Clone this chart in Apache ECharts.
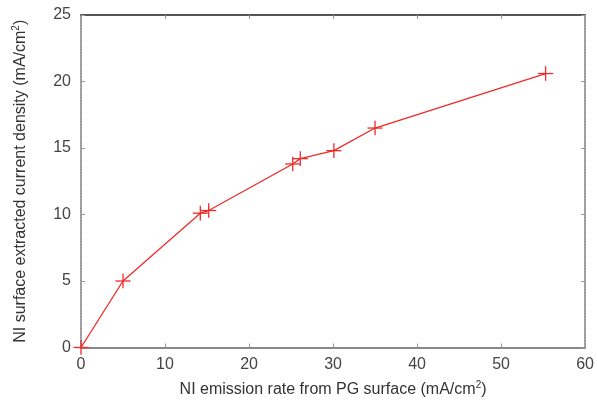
<!DOCTYPE html>
<html><head><meta charset="utf-8">
<script src="https://cdn.jsdelivr.net/npm/echarts@6/dist/echarts.min.js"></script>
<style>html,body{margin:0;padding:0;background:#fff;}#c{width:597px;height:403px;}</style>
</head><body><div id="c"></div>
<script>
const xValues = [0, 5, 14.2, 15.2, 25.2, 26.1, 30.1, 35, 55.3];
const yValues = [0, 5.0, 10.1, 10.3, 13.8, 14.2, 14.8, 16.5, 20.6];
const xErr = [0.9, 0.9, 0.9, 0.9, 0.9, 0.9, 0.9, 0.9, 0.9];
const yErr = [0.55, 0.55, 0.55, 0.55, 0.55, 0.55, 0.55, 0.55, 0.55];
const xTicks = [0, 10, 20, 30, 40, 50, 60];
const yTicks = [0, 5, 10, 15, 20, 25];

const red = '#ee2a2a';
const points = xValues.map((x, i) => [x, yValues[i], xErr[i], yErr[i]]);
const chart = echarts.init(document.getElementById('c'));
const font = 'Liberation Sans, Arial, sans-serif';
const tick = {inside: true, length: 4, lineStyle: {color: '#999'}};
chart.setOption({
  animation: false,
  grid: {left: 81, right: 11, top: 15, bottom: 55},
  xAxis: [
    {type: 'value', min: xTicks[0], max: xTicks[xTicks.length - 1], interval: 10, position: 'bottom',
     axisLine: {show: true, onZero: false, lineStyle: {color: '#888', width: 2}},
     axisTick: tick,
     axisLabel: {color: '#444', fontSize: 16, fontFamily: font, margin: 9},
     splitLine: {show: false},
     name: 'NI emission rate from PG surface (mA/cm{s|2})',
     nameLocation: 'middle', nameGap: 33,
     nameTextStyle: {color: '#333', fontSize: 16, fontFamily: font,
       rich: {s: {fontSize: 10, verticalAlign: 'top', padding: [0,0,9,0], color: '#333', fontFamily: font}}}},
    {type: 'value', min: xTicks[0], max: xTicks[xTicks.length - 1], interval: 10, position: 'top',
     axisLine: {show: true, onZero: false, lineStyle: {color: '#555', width: 2}},
     axisTick: tick,
     axisLabel: {show: false}, splitLine: {show: false}}
  ],
  yAxis: [
    {type: 'value', min: yTicks[0], max: yTicks[yTicks.length - 1], interval: 5, position: 'left',
     axisLine: {show: true, onZero: false, lineStyle: {color: '#777', type: [2, 1], width: 1.5}},
     axisTick: tick,
     axisLabel: {color: '#444', fontSize: 16, fontFamily: font, margin: 10},
     splitLine: {show: false},
     name: 'NI surface extracted current density (mA/cm{s|2})',
     nameLocation: 'middle', nameGap: 51,
     nameTextStyle: {color: '#333', fontSize: 16, fontFamily: font,
       rich: {s: {fontSize: 10, verticalAlign: 'top', padding: [0,0,9,0], color: '#333', fontFamily: font}}}},
    {type: 'value', min: yTicks[0], max: yTicks[yTicks.length - 1], interval: 5, position: 'right',
     axisLine: {show: true, onZero: false, lineStyle: {color: '#777', type: [2, 1], width: 1.5}},
     axisTick: tick,
     axisLabel: {show: false}, splitLine: {show: false}}
  ],
  series: [
    {type: 'line', data: points.map(p => [p[0], p[1]]), symbol: 'none',
     lineStyle: {color: red, width: 1.3}, z: 2},
    {type: 'custom', data: points, z: 3,
     renderItem: function (params, api) {
       const x = api.value(0), y = api.value(1), dx = api.value(2), dy = api.value(3);
       const l = api.coord([x - dx, y]), r = api.coord([x + dx, y]);
       const b = api.coord([x, y - dy]), t = api.coord([x, y + dy]);
       const st = {stroke: red, lineWidth: 1.3};
       return {type: 'group', children: [
         {type: 'line', shape: {x1: l[0], y1: l[1], x2: r[0], y2: r[1]}, style: st},
         {type: 'line', shape: {x1: b[0], y1: b[1], x2: t[0], y2: t[1]}, style: st}
       ]};
     }}
  ]
});
</script></body></html>
